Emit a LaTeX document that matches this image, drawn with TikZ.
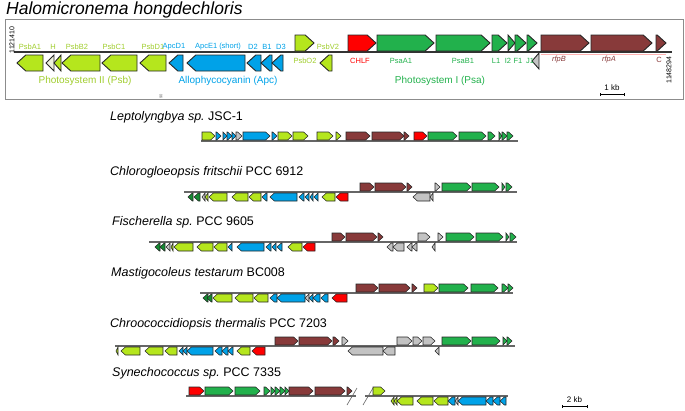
\documentclass[tikz,border=0pt]{standalone}
\usepackage{fontspec}
\setmainfont{Liberation Sans}
\definecolor{lime}{RGB}{181,230,29}
\definecolor{limetxt}{RGB}{160,205,45}
\definecolor{gblue}{RGB}{0,162,232}
\definecolor{ggreen}{RGB}{34,177,76}
\definecolor{gred}{RGB}{255,0,0}
\definecolor{gbrown}{RGB}{136,58,58}
\definecolor{ggray}{RGB}{195,195,195}
\definecolor{dkgreen}{RGB}{20,140,50}
\definecolor{hwhite}{RGB}{238,242,222}
\newcommand{\gf}[5]{%
 \pgfmathsetmacro\gtip{min(0.55*(#4-#3),#2-#1)}%
 \pgfmathsetmacro\gmid{(#3+#4)/2}%
 \filldraw[gene,fill=#5] (#1,#3) -- ({#2-\gtip},#3) -- (#2,\gmid) -- ({#2-\gtip},#4) -- (#1,#4) -- cycle;}
\newcommand{\gr}[5]{%
 \pgfmathsetmacro\gtip{min(0.55*(#4-#3),#2-#1)}%
 \pgfmathsetmacro\gmid{(#3+#4)/2}%
 \filldraw[gene,fill=#5] (#2,#3) -- ({#1+\gtip},#3) -- (#1,\gmid) -- ({#1+\gtip},#4) -- (#2,#4) -- cycle;}
\newcommand{\gup}[3]{\gf{#1}{#2}{\ya}{\yb}{#3}}
\newcommand{\gdn}[3]{\gr{#1}{#2}{\yc}{\yd}{#3}}
\newcommand{\setY}[1]{\pgfmathsetmacro\ya{#1-9}\pgfmathsetmacro\yb{#1-1}\pgfmathsetmacro\yc{#1+1}\pgfmathsetmacro\yd{#1+9}}
\begin{document}
\begin{tikzpicture}[x=1pt,y=-1pt,
 gene/.style={draw=black!85,line width=0.55pt,line join=miter},
 bigline/.style={draw=black!80,line width=1.3pt},
 gline/.style={draw=black!60,line width=1.2pt},
 glab/.style={font=\fontsize{7.5}{8}\selectfont,inner sep=0pt},
 grp/.style={font=\fontsize{10}{12}\selectfont,inner sep=0pt},
 species/.style={font=\fontsize{12.5}{14}\selectfont,anchor=west,inner sep=0pt},
 sbar/.style={draw=black,line width=0.9pt}]
\useasboundingbox (0,0) rectangle (685,410);
% title
\node[anchor=west,inner sep=0pt,font=\fontsize{17.5}{20}\selectfont\itshape] (title) at (6,10) {Halomicronema hongdechloris};
\draw[draw=black!45,line width=0.8pt] (5,19) rectangle (683,99);
% top panel
\draw[bigline] (14,52) -- (672,52);
\draw[draw=red!30,line width=0.6pt] (541,54) -- (666,54);
\def\ya{35}\def\yb{51}\def\yc{55}\def\yd{71}
\tikzset{gene/.append style={line width=0.9pt}}
\gdn{17}{43}{lime}
\gdn{46}{54}{hwhite}
\gdn{54}{61}{lime}
\gdn{62}{100}{lime}
\gdn{102}{137}{lime}
\gdn{140}{166}{lime}
\gdn{169}{183}{gblue}
\gdn{187}{245}{gblue}
\gdn{247}{261}{gblue}
\gdn{261}{272}{gblue}
\gdn{272}{283}{gblue}
\gdn{320}{332}{lime}
\gr{532}{539}{53}{69}{ggray}
\gup{295}{314}{lime}
\gup{348}{376}{gred}
\gup{377}{434}{ggreen}
\gup{436}{490}{ggreen}
\gup{492}{507}{ggreen}
\gup{508}{515}{ggreen}
\gup{515}{526}{ggreen}
\gup{527}{537}{ggreen}
\gup{541}{589}{gbrown}
\gup{591}{652}{gbrown}
\gup{656}{666}{gbrown}
\tikzset{gene/.append style={line width=0.55pt}}
% top labels
\node[glab,text=limetxt] (lA1) at (30,47) {PsbA1};
\node[glab,text=limetxt] (lH) at (53,47) {H};
\node[glab,text=limetxt] (lB2) at (77,47) {PsbB2};
\node[glab,text=limetxt] (lC1) at (114,47) {PsbC1};
\node[glab,text=limetxt] (lD1) at (153,47) {PsbD1};
\node[glab,text=gblue] (lAD1) at (174,47) {ApcD1};
\node[glab,text=gblue] (lAE1) at (218,47) {ApcE1 (short)};
\node[glab,text=gblue] (lD2) at (253,47) {D2};
\node[glab,text=gblue] (lB1) at (267,47) {B1};
\node[glab,text=gblue] (lD3) at (281,47) {D3};
\node[glab,text=limetxt] (lV2) at (328,47) {PsbV2};
\node[glab,text=limetxt] (lO2) at (305,61) {PsbO2};
\node[glab,text=gred] (lCH) at (360,61) {CHLF};
\node[glab,text=ggreen] (lPA) at (401,61) {PsaA1};
\node[glab,text=ggreen] (lPB) at (463,61) {PsaB1};
\node[glab,text=ggreen] (lL1) at (496,61) {L1};
\node[glab,text=ggreen] (lI2) at (508,61) {I2};
\node[glab,text=ggreen] (lF1) at (518,61) {F1};
\node[glab,text=ggreen] (lJ1) at (530,61) {J1};
\node[glab,text=gbrown] (lrB) at (559,60) {\itshape rfpB};
\node[glab,text=gbrown] (lrA) at (609,60) {\itshape rfpA};
\node[glab,text=gbrown] (lrC) at (659,60) {C};
\node[grp,text=limetxt] (g2) at (85,81) {Photosystem II (Psb)};
\node[grp,text=gblue] (gA) at (228,81) {Allophycocyanin (Apc)};
\node[grp,text=ggreen] (g1) at (440,81) {Photosystem I (Psa)};
\node[glab,rotate=90,font=\fontsize{7}{8}\selectfont] (c1) at (12,40) {1121410};
\node[glab,rotate=90,font=\fontsize{7}{8}\selectfont] (c2) at (669,70) {1148294};
\node[glab,rotate=90,font=\fontsize{4}{5}\selectfont,text=black!60] (n90) at (161,96) {90};
\coordinate (s1a) at (600,94); \coordinate (s1b) at (624,94);
\draw[sbar] (s1a) -- (s1b);
\draw[sbar] ([yshift=-2]s1a) -- ([yshift=1.5]s1a);
\draw[sbar] ([yshift=-2]s1b) -- ([yshift=1.5]s1b);
\node[glab,font=\fontsize{8}{9}\selectfont] (k1) at (612,88) {1 kb};
% Panel 1 Leptolyngbya
\node[species] (sp1) at (110,117) {\itshape Leptolyngbya sp.\upshape\ JSC-1};
\setY{141}
\draw[gline] (201,141) -- (518,141);
\gup{202}{215}{lime}\gup{216}{221}{gblue}\gup{223}{227}{gblue}\gup{227}{232}{gblue}
\gup{232}{236}{gblue}\gup{236}{242}{ggray}\gup{243}{270}{gblue}\gup{272}{277}{gblue}
\gup{278}{292}{lime}\gup{293}{308}{lime}\gup{317}{333}{lime}\gup{336}{341}{lime}
\gup{346}{370}{gbrown}\gup{372}{404}{gbrown}\gup{404}{409}{gbrown}
\gup{414}{427}{gred}\gup{428}{457}{ggreen}\gup{459}{486}{ggreen}\gup{488}{495}{ggreen}
\gup{499}{502}{ggreen}\gup{502}{507}{ggreen}\gup{507}{513}{ggreen}
% Panel 2 Chlorogloeopsis
\node[species] (sp2) at (110,172) {\itshape Chlorogloeopsis fritschii\upshape\ PCC 6912};
\setY{192}
\draw[gline] (184,192) -- (517,192);
\gup{360}{374}{gbrown}\gup{375}{406}{gbrown}\gup{407}{412}{gbrown}
\gup{435}{440}{ggray}\gup{442}{471}{ggreen}\gup{472}{499}{ggreen}\gup{502}{505}{ggreen}\gup{506}{512}{ggreen}
\gdn{188}{193}{dkgreen}\gdn{194}{200}{dkgreen}\gdn{202}{205}{ggray}\gdn{205}{208}{lime}
\gdn{209}{227}{lime}\gdn{232}{248}{lime}\gdn{249}{261}{lime}\gdn{262}{267}{gblue}
\gdn{270}{297}{gblue}\gdn{299}{304}{gblue}\gdn{305}{309}{gblue}\gdn{310}{313}{gblue}
\gdn{314}{318}{gblue}\gdn{322}{335}{lime}\gdn{336}{348}{gred}
\gdn{413}{430}{ggray}\gdn{430}{433}{ggray}
% Panel 3 Fischerella
\node[species] (sp3) at (112,222) {\itshape Fischerella sp.\upshape\ PCC 9605};
\setY{242}
\draw[gline] (149,242) -- (517,242);
\gup{332}{345}{gbrown}\gup{346}{377}{gbrown}\gup{378}{383}{gbrown}
\gup{418}{430}{ggray}\gup{438}{443}{ggray}\gup{446}{474}{ggreen}\gup{476}{503}{ggreen}
\gup{506}{509}{ggreen}\gup{510}{516}{ggreen}
\gdn{155}{160}{dkgreen}\gdn{160}{165}{dkgreen}\gdn{166}{170}{ggray}\gdn{171}{173}{lime}
\gdn{174}{193}{lime}\gdn{197}{213}{lime}\gdn{214}{227}{lime}\gdn{228}{232}{gblue}
\gdn{237}{264}{gblue}\gdn{266}{271}{gblue}\gdn{272}{276}{gblue}\gdn{277}{282}{gblue}
\gdn{288}{302}{lime}\gdn{303}{315}{gred}
\gdn{387}{393}{ggray}\gdn{393}{404}{ggray}\gdn{407}{412}{ggray}\gdn{412}{417}{ggray}\gdn{432}{435}{ggray}
% Panel 4 Mastigocoleus
\node[species] (sp4) at (111,273) {\itshape Mastigocoleus testarum\upshape\ BC008};
\setY{293}
\draw[gline] (200,293) -- (513,293);
\gup{356}{378}{gbrown}\gup{379}{410}{gbrown}\gup{412}{417}{gbrown}
\gup{424}{438}{lime}\gup{439}{468}{ggreen}\gup{471}{498}{ggreen}\gup{502}{508}{ggreen}\gup{508}{513}{ggreen}
\gdn{203}{208}{dkgreen}\gdn{207}{212}{dkgreen}\gdn{213}{232}{lime}\gdn{235}{253}{lime}
\gdn{254}{268}{lime}\gdn{270}{277}{gblue}\gdn{277}{305}{gblue}\gdn{305}{309}{ggray}
\gdn{309}{313}{gblue}\gdn{313}{320}{gblue}\gdn{321}{328}{gblue}\gdn{332}{347}{gred}
% Panel 5 Chroococcidiopsis
\node[species] (sp5) at (110,324) {\itshape Chroococcidiopsis thermalis\upshape\ PCC 7203};
\setY{346}
\draw[gline] (115,346) -- (515,346);
\gup{275}{298}{gbrown}\gup{299}{332}{gbrown}\gup{333}{339}{gbrown}\gup{342}{348}{ggray}
\gup{397}{412}{ggray}\gup{413}{422}{ggray}\gup{423}{435}{ggray}
\gup{442}{471}{ggreen}\gup{472}{500}{ggreen}\gup{503}{507}{ggreen}\gup{507}{512}{ggreen}
\gdn{116}{118}{lime}\gdn{121}{140}{lime}\gdn{145}{163}{lime}\gdn{165}{177}{lime}
\gdn{179}{183}{gblue}\gdn{183}{187}{gblue}\gdn{187}{213}{gblue}\gdn{215}{222}{gblue}
\gdn{222}{228}{gblue}\gdn{228}{233}{gblue}\gdn{237}{250}{lime}\gdn{252}{265}{gred}
\gdn{348}{383}{ggray}\gdn{383}{395}{ggray}\gdn{435}{439}{ggray}
% Panel 6 Synechococcus
\node[species] (sp6) at (112,373) {\itshape Synechococcus sp.\upshape\ PCC 7335};
\setY{396}
\draw[gline] (186,396) -- (356,396);
\draw[gline] (365,396) -- (508,396);
\draw[draw=black!60,line width=0.6pt] (347,405) -- (357,388);
\draw[draw=black!60,line width=0.6pt] (363,405) -- (373,388);
\gup{189}{204}{gred}\gup{205}{233}{ggreen}\gup{235}{260}{ggreen}
\gup{264}{270}{ggreen}\gup{271}{275}{ggreen}\gup{275}{280}{ggreen}\gup{280}{285}{ggreen}\gup{285}{289}{ggreen}
\gup{289}{313}{gbrown}\gup{315}{345}{gbrown}\gup{347}{352}{gbrown}
\gup{373}{385}{lime}
\gdn{391}{394}{lime}\gdn{394}{397}{lime}\gdn{397}{413}{lime}\gdn{417}{433}{lime}
\gdn{434}{448}{lime}\gdn{448}{455}{gblue}\gdn{455}{458}{ggray}\gdn{458}{486}{gblue}
\gdn{486}{493}{gblue}\gdn{493}{500}{gblue}\gdn{500}{506}{gblue}
% scale bar 2 kb
\coordinate (s2a) at (562,406); \coordinate (s2b) at (587,406);
\draw[sbar] (s2a) -- (s2b);
\draw[sbar] ([yshift=-2]s2a) -- ([yshift=1.5]s2a);
\draw[sbar] ([yshift=-2]s2b) -- ([yshift=1.5]s2b);
\node[glab,font=\fontsize{8}{9}\selectfont] (k2) at (574.5,399.5) {2 kb};
\end{tikzpicture}
\end{document}
